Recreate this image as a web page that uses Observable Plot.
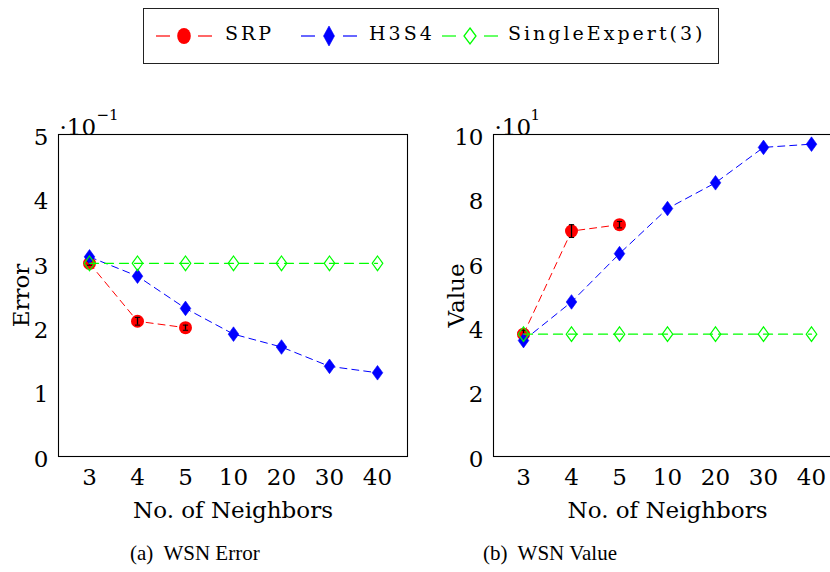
<!DOCTYPE html>
<html><head><meta charset="utf-8">
<script src="https://cdn.jsdelivr.net/npm/d3@7"></script>
<script src="https://cdn.jsdelivr.net/npm/@observablehq/plot@0.6"></script>
<style>
html,body{margin:0;padding:0;background:#fff;overflow:hidden}
#wrap{position:relative;width:830px;height:572px;overflow:hidden;background:#fff}
.abs{position:absolute}
.leg-text{position:absolute;font-family:"DejaVu Serif",serif;font-size:19px;letter-spacing:3px;color:#000;line-height:19px;white-space:nowrap}
.cap{position:absolute;font-family:"Liberation Serif",serif;font-size:21px;color:#000;white-space:pre;line-height:21px}
</style></head><body><div id="wrap"></div>
<script>
// ---- data ----
const neighbors = ["3", "4", "5", "10", "20", "30", "40"];
const seriesNames = ["SRP", "H3S4", "SingleExpert(3)"];
const seriesColors = ["#ff0000", "#0000ff", "#00ff00"];

// Error panel (x 10^-1)
const errSRP = [3.0, 2.1, 2.0];
const errSRPdev = [0.03, 0.06, 0.04];
const errH3S4 = [3.1, 2.8, 2.3, 1.9, 1.7, 1.4, 1.3];
const errSingle = [3.0, 3.0, 3.0, 3.0, 3.0, 3.0, 3.0];
const errTicks = [0, 1, 2, 3, 4, 5];

// Value panel (x 10^1)
const valSRP = [3.8, 7.0, 7.2];
const valSRPdev = [0.12, 0.2, 0.1];
const valH3S4 = [3.6, 4.8, 6.3, 7.7, 8.5, 9.6, 9.7];
const valSingle = [3.8, 3.8, 3.8, 3.8, 3.8, 3.8, 3.8];
const valTicks = [0, 2, 4, 6, 8, 10];

// ---- symbols ----
const tallDiamond = {
  draw(ctx, size) {
    const r = Math.sqrt(size / Math.PI);
    const h = r * 1.38;
    ctx.moveTo(0, -h); ctx.lineTo(r, 0); ctx.lineTo(0, h); ctx.lineTo(-r, 0); ctx.closePath();
  }
};
const capSym = {
  draw(ctx, size) {
    const r = Math.sqrt(size / Math.PI);
    ctx.moveTo(-r, 0); ctx.lineTo(r, 0);
  }
};

function panel(o) {
  const srp = o.srp.map((v, i) => ({x: neighbors[i], y: v, lo: v - o.srpDev[i], hi: v + o.srpDev[i]}));
  const h3 = o.h3s4.map((v, i) => ({x: neighbors[i], y: v}));
  const se = o.single.map((v, i) => ({x: neighbors[i], y: v}));
  return Plot.plot({
    width: o.width, height: 420,
    marginLeft: o.marginLeft, marginRight: o.marginRight, marginTop: 34, marginBottom: 64,
    style: {fontFamily: '"DejaVu Serif", serif', fontSize: "23px", background: "white", color: "black", overflow: "visible"},
    x: {type: "point", domain: neighbors, padding: 0.6},
    y: {domain: [0, o.yMax]},
    marks: [
      Plot.axisX({tickSize: 0, tickPadding: 12, label: "No. of Neighbors", labelAnchor: "center", labelArrow: "none", labelOffset: 61}),
      Plot.axisY(o.yTicks, {tickSize: 0, tickPadding: 10, tickFormat: d3.format("d"), dy: 3, label: o.yLabel, labelAnchor: "center", labelArrow: "none", labelOffset: 46}),
      Plot.frame({stroke: "black", strokeWidth: 1.1}),
      Plot.text([o.expBase], {frameAnchor: "top-left", text: d => d, textAnchor: "start", dx: 1, dy: -16}),
      Plot.text([o.expSup], {frameAnchor: "top-left", text: d => d, textAnchor: "start", dx: o.supDx, dy: -25, fontSize: 15}),
      // SRP
      Plot.line(srp, {x: "x", y: "y", stroke: seriesColors[0], strokeWidth: 1, strokeDasharray: "7,5"}),
      Plot.dot(srp, {x: "x", y: "y", r: 6.5, fill: seriesColors[0], stroke: "none"}),
      Plot.ruleX(srp, {x: "x", y1: "lo", y2: "hi", stroke: "black", strokeWidth: 1.3}),
      Plot.dot(srp, {x: "x", y: "lo", symbol: capSym, r: 2.6, stroke: "black", fill: "none", strokeWidth: 1}),
      Plot.dot(srp, {x: "x", y: "hi", symbol: capSym, r: 2.6, stroke: "black", fill: "none", strokeWidth: 1}),
      // H3S4
      Plot.line(h3, {x: "x", y: "y", stroke: seriesColors[1], strokeWidth: 1, strokeDasharray: "7,5"}),
      Plot.dot(h3, {x: "x", y: "y", symbol: tallDiamond, r: 5.3, fill: seriesColors[1], stroke: seriesColors[1], strokeWidth: 0.6}),
      // SingleExpert(3)
      Plot.line(se, {x: "x", y: "y", stroke: seriesColors[2], strokeWidth: 1.3, strokeDasharray: "9,6"}),
      Plot.dot(se, {x: "x", y: "y", symbol: tallDiamond, r: 5.3, fill: "none", stroke: seriesColors[2], strokeWidth: 1.2})
    ]
  });
}

const wrap = document.getElementById("wrap");

// ---- legend ----
const legBox = document.createElement("div");
legBox.className = "abs";
Object.assign(legBox.style, {left: "143px", top: "8px", width: "574px", height: "54px", border: "1.4px solid #222"});
wrap.appendChild(legBox);

const legSamples = [
  {sx: 156, tx: 225, shape: "circle"},
  {sx: 301, tx: 369, shape: "diamond"},
  {sx: 442, tx: 508, shape: "open"}
];
legSamples.forEach((s, i) => {
  const c = seriesColors[i];
  let marker;
  if (s.shape === "circle") marker = `<ellipse cx="28" cy="14" rx="6.8" ry="8" fill="${c}"/>`;
  else if (s.shape === "diamond") marker = `<path d="M28,4 L33.5,14 L28,24 L22.5,14 Z" fill="${c}" stroke="${c}" stroke-width="0.6"/>`;
  else marker = `<path d="M28,6 L34,14 L28,22 L22,14 Z" fill="none" stroke="${c}" stroke-width="1.3"/>`;
  const svg = `<svg width="56" height="28" style="position:absolute;left:${s.sx}px;top:22px">
    <line x1="0" y1="14" x2="14" y2="14" stroke="${c}" stroke-width="1.2"/>
    <line x1="42" y1="14" x2="56" y2="14" stroke="${c}" stroke-width="1.2"/>${marker}</svg>`;
  wrap.insertAdjacentHTML("beforeend", svg);
  const t = document.createElement("div");
  t.className = "leg-text";
  t.textContent = seriesNames[i];
  t.style.left = s.tx + "px";
  t.style.top = "24px";
  wrap.appendChild(t);
});

// ---- panels ----
const left = panel({
  width: 420, marginLeft: 58, marginRight: 13, yMax: 5, yTicks: errTicks, yLabel: "Error",
  srp: errSRP, srpDev: errSRPdev, h3s4: errH3S4, single: errSingle,
  expBase: "·10", expSup: "−1", supDx: 38
});
left.style.position = "absolute"; left.style.left = "0px"; left.style.top = "100px";
wrap.appendChild(left);

const right = panel({
  width: 430, marginLeft: 73, marginRight: 9, yMax: 10, yTicks: valTicks, yLabel: "Value",
  srp: valSRP, srpDev: valSRPdev, h3s4: valH3S4, single: valSingle,
  expBase: "·10", expSup: "1", supDx: 37
});
right.style.position = "absolute"; right.style.left = "420px"; right.style.top = "100px";
wrap.appendChild(right);

// ---- captions ----
const caps = [{t: "(a)  WSN Error", cx: 195}, {t: "(b)  WSN Value", cx: 550}];
caps.forEach(c => {
  const d = document.createElement("div");
  d.className = "cap";
  d.textContent = c.t;
  d.style.top = "543px";
  wrap.appendChild(d);
  d.style.left = (c.cx - d.offsetWidth / 2) + "px";
});
</script></body></html>
